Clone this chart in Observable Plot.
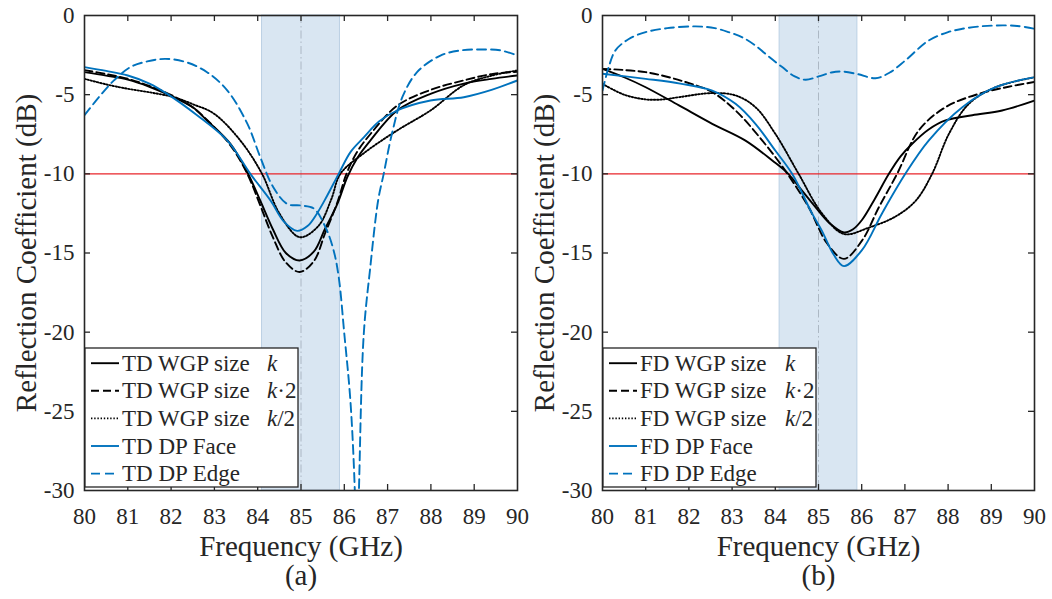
<!DOCTYPE html>
<html><head><meta charset="utf-8">
<script src="https://cdn.jsdelivr.net/npm/d3@7"></script>
<script src="https://cdn.jsdelivr.net/npm/@observablehq/plot@0.6"></script>
<style>
body{margin:0;background:#fff;}
#wrap{display:flex;width:1052px;height:599px;overflow:hidden;background:#fff;}
#wrap svg{overflow:visible;}
svg text{font-family:"Liberation Serif","Times New Roman",serif;}
</style></head><body><div id="wrap"></div>
<script>
// ---------- data ----------
const xTicks = [80, 81, 82, 83, 84, 85, 86, 87, 88, 89, 90];
const yTicks = [0, -5, -10, -15, -20, -25, -30];
const bandLow = 84.1, bandHigh = 85.9, bandCenter = 85.0;
const threshold = -10;
const xLabel = "Frequency (GHz)";
const yLabel = "Reflection Coefficient (dB)";
const captions = ["(a)", "(b)"];

// panel (a): TD
const tdK = [[80,-3.58],[80.5,-3.8],[81,-4.05],[81.5,-4.5],[82.06,-5.16],[82.5,-5.8],[82.83,-6.63],[83.37,-8.1],[83.76,-9.9],[84.06,-11.7],[84.35,-13.5],[84.65,-15.0],[84.97,-15.47],[85.3,-14.9],[85.55,-13.5],[85.84,-11.9],[86.07,-10.2],[86.3,-9.0],[86.6,-7.9],[87.22,-6.0],[87.99,-4.95],[88.76,-4.3],[89.4,-4.0],[90,-3.79]];
const tdK2 = [[80,-3.45],[80.5,-3.7],[81,-4.0],[81.5,-4.45],[82.06,-5.1],[82.5,-5.8],[82.83,-6.6],[83.37,-8.2],[83.76,-10.0],[84.06,-12.0],[84.35,-14.0],[84.65,-15.6],[84.97,-16.2],[85.3,-15.5],[85.55,-13.8],[85.84,-11.8],[86.05,-10.0],[86.3,-8.6],[86.6,-7.5],[87.22,-5.7],[87.99,-4.7],[88.76,-4.1],[89.4,-3.7],[90,-3.55]];
const tdKHalf = [[80,-4.0],[80.5,-4.35],[81,-4.63],[81.5,-4.85],[82.06,-5.16],[82.5,-5.6],[82.99,-6.2],[83.6,-7.9],[84.1,-10.0],[84.5,-12.5],[84.97,-14.0],[85.4,-13.3],[85.7,-11.6],[85.91,-10.0],[86.45,-8.7],[87.22,-7.26],[87.99,-6.0],[88.76,-4.4],[89.4,-3.8],[90,-3.47]];
const tdFace = [[80,-3.26],[80.5,-3.5],[81,-3.79],[81.5,-4.3],[81.91,-4.95],[82.6,-6.3],[83.3,-7.9],[83.83,-10.0],[84.3,-11.7],[84.6,-13.0],[84.91,-13.6],[85.15,-13.3],[85.37,-12.5],[85.6,-11.4],[85.87,-10.0],[86.15,-8.6],[86.45,-7.7],[86.8,-6.7],[87.22,-6.0],[87.99,-5.37],[88.76,-5.16],[89.4,-4.7],[90,-4.1]];
const tdEdge = [[80,-6.3],[80.35,-5.1],[80.68,-4.1],[81.06,-3.26],[81.45,-2.9],[81.87,-2.74],[82.35,-2.95],[82.83,-3.58],[83.3,-4.74],[83.76,-6.83],[84.06,-8.95],[84.35,-10.8],[84.68,-11.9],[85.0,-12.0],[85.3,-12.2],[85.57,-13.4],[85.75,-14.8],[85.87,-16.5],[86.0,-20.1],[86.14,-24.3],[86.24,-29.8],[86.29,-36],[86.34,-29.8],[86.45,-20.1],[86.6,-15.9],[86.78,-11.7],[86.91,-10.0],[87.1,-7.47],[87.34,-5.16],[87.68,-3.58],[88.22,-2.53],[88.7,-2.2],[89.15,-2.15],[89.6,-2.2],[90,-2.53]];

// panel (b): FD
const fdK = [[80,-3.37],[80.5,-3.9],[81,-4.53],[81.77,-5.68],[82.54,-6.84],[83.31,-7.9],[83.93,-9.16],[84.3,-10.0],[84.6,-11.0],[84.93,-12.1],[85.25,-13.1],[85.59,-13.7],[85.8,-13.5],[86.01,-12.9],[86.3,-11.6],[86.63,-10.0],[86.9,-8.9],[87.17,-8.1],[87.55,-7.2],[87.94,-6.63],[88.56,-6.3],[89.25,-6.0],[90,-5.37]];
const fdK2 = [[80,-3.37],[81,-3.58],[81.92,-4.2],[82.54,-4.84],[83.08,-6.0],[83.7,-7.9],[84.23,-9.8],[84.77,-12.1],[85.2,-14.4],[85.59,-15.37],[86.01,-14.2],[86.4,-12.1],[86.82,-10.0],[87.32,-7.26],[87.94,-5.79],[88.71,-4.95],[89.4,-4.5],[90,-4.2]];
const fdKHalf = [[80,-4.32],[80.5,-5.0],[81,-5.3],[81.4,-5.3],[81.77,-5.16],[82.54,-4.9],[83.08,-5.05],[83.54,-5.79],[84.0,-7.47],[84.54,-10.0],[85.08,-12.5],[85.59,-13.8],[86.16,-13.4],[86.78,-12.7],[87.25,-11.7],[87.63,-10.0],[88.02,-7.47],[88.48,-5.58],[89.1,-4.53],[90,-3.9]];
const fdFace = [[80,-3.68],[81,-4.0],[81.8,-4.3],[82.54,-4.74],[83.08,-5.58],[83.54,-6.84],[84.0,-8.53],[84.39,-10.0],[84.85,-12.5],[85.08,-13.6],[85.35,-15.1],[85.59,-15.83],[86.01,-14.8],[86.47,-12.5],[87.01,-10.0],[87.55,-7.9],[88.33,-5.79],[89.1,-4.53],[90,-3.9]];
const fdEdge = [[80,-4.74],[80.15,-3.2],[80.3,-2.2],[80.6,-1.5],[81.0,-1.05],[81.5,-0.8],[82.15,-0.69],[82.6,-0.8],[82.92,-1.05],[83.25,-1.4],[83.54,-1.9],[83.85,-2.6],[84.16,-3.26],[84.45,-3.85],[84.7,-4.06],[85.0,-3.85],[85.3,-3.6],[85.55,-3.54],[85.9,-3.7],[86.32,-3.96],[86.65,-3.6],[87.01,-2.84],[87.55,-1.58],[88.0,-1.05],[88.33,-0.84],[88.7,-0.7],[89.1,-0.63],[89.6,-0.66],[90,-0.84]];

const legendNamesA = ["TD WGP size", "TD WGP size", "TD WGP size", "TD DP Face", "TD DP Edge"];
const legendNamesB = ["FD WGP size", "FD WGP size", "FD WGP size", "FD DP Face", "FD DP Edge"];
const legendItalic = ["k", "k", "k", "", ""];
const legendRest = ["", "·2", "/2", "", ""];

// ---------- styles ----------
const BLUE = "#0072bd", INK = "#262626";
const seriesStyles = [
  {stroke: "#000", strokeWidth: 1.9, dash: null},
  {stroke: "#000", strokeWidth: 1.9, dash: "8,4"},
  {stroke: "#000", strokeWidth: 1.9, dash: "1.4,1.8"},
  {stroke: BLUE, strokeWidth: 1.9, dash: null},
  {stroke: BLUE, strokeWidth: 1.9, dash: "9,5"}
];

function panel(series, names, caption, width, marginLeft, marginRight) {
  const marginTop = 15, marginBottom = 109, height = 599;
  const fw = width - marginLeft - marginRight, fh = height - marginTop - marginBottom, tl = 6;
  const marks = [
    Plot.rect([0], {x1: () => bandLow, x2: () => bandHigh, fill: "#d9e6f2", stroke: "#bcd0e4", strokeWidth: 1}),
    Plot.ruleX([bandCenter], {stroke: "#a7b2be", strokeWidth: 0.9, strokeDasharray: "8,3,1.5,3"}),
    Plot.ruleY([threshold], {stroke: "#e8242a", strokeWidth: 1.3}),
  ];
  series.forEach((s, i) => {
    const st = seriesStyles[i];
    marks.push(Plot.line(s, {x: d => d[0], y: d => d[1], stroke: st.stroke, strokeWidth: st.strokeWidth,
      strokeDasharray: st.dash, curve: "catmull-rom", clip: true}));
  });
  const innerX = xTicks.slice(1, -1), innerY = yTicks.slice(1, -1);
  marks.push(
    Plot.axisX({ticks: xTicks, tickSize: 0, tickPadding: 17, tickFormat: d => String(d), fontSize: 23, label: null}),
    Plot.axisY({ticks: yTicks, tickSize: 0, tickPadding: 10, tickFormat: d => String(d), fontSize: 23, label: null}),
    Plot.tickX(innerX, {x: d => d, insetTop: fh - tl, stroke: INK, strokeWidth: 1.3}),
    Plot.tickX(innerX, {x: d => d, insetBottom: fh - tl, stroke: INK, strokeWidth: 1.3}),
    Plot.tickY(innerY, {y: d => d, insetRight: fw - tl, stroke: INK, strokeWidth: 1.3}),
    Plot.tickY(innerY, {y: d => d, insetLeft: fw - tl, stroke: INK, strokeWidth: 1.3}),
    Plot.frame({stroke: INK, strokeWidth: 1.6}),
    Plot.text([yLabel], {frameAnchor: "left", textAnchor: "middle", rotate: -90, dx: -49, lineAnchor: "bottom", fontSize: 29, fill: INK}),
    Plot.text([xLabel], {frameAnchor: "bottom", textAnchor: "middle", dy: 65, lineAnchor: "bottom", fontSize: 29, fill: INK}),
    Plot.text([caption], {frameAnchor: "bottom", textAnchor: "middle", dy: 94, lineAnchor: "bottom", fontSize: 29, fill: INK})
  );
  const svg = Plot.plot({
    width, height, marginLeft, marginRight, marginTop, marginBottom,
    x: {domain: [80, 90]}, y: {domain: [-30, 0]},
    style: {fontFamily: "Liberation Serif", color: INK, background: "transparent", overflow: "visible"},
    marks
  });
  // legend (layout only)
  const g = d3.select(svg).append("g").attr("transform", `translate(${marginLeft + 1},348)`)
    .attr("text-anchor", "start");
  g.append("rect").attr("width", 213).attr("height", 139).attr("fill", "white").attr("stroke", INK).attr("stroke-width", 1.3);
  names.forEach((name, i) => {
    const st = seriesStyles[i];
    const yb = 22.7 + i * 27.6;
    g.append("line").attr("x1", 6).attr("x2", 34).attr("y1", yb - 7.5).attr("y2", yb - 7.5)
      .attr("stroke", st.stroke).attr("stroke-width", st.strokeWidth).attr("stroke-dasharray", st.dash);
    const t = g.append("text").attr("x", 37).attr("y", yb).attr("font-size", 23).attr("fill", INK)
      .attr("text-anchor", "start");
    t.append("tspan").text(name);
    if (legendItalic[i]) {
      t.append("tspan").attr("x", 182).attr("font-style", "italic").text(legendItalic[i]);
      if (legendRest[i]) t.append("tspan").text(legendRest[i]);
    }
  });
  return svg;
}

const wrap = document.getElementById("wrap");
wrap.appendChild(panel([tdK, tdK2, tdKHalf, tdFace, tdEdge], legendNamesA, captions[0], 520, 84, 3));
wrap.appendChild(panel([fdK, fdK2, fdKHalf, fdFace, fdEdge], legendNamesB, captions[1], 532, 82, 18));
</script></body></html>
